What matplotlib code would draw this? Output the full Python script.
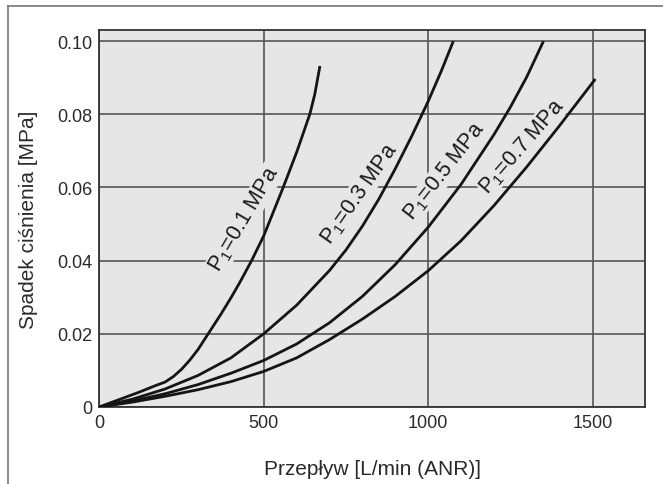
import matplotlib
matplotlib.use("Agg")
import matplotlib.pyplot as plt
from matplotlib.lines import Line2D

plt.rcParams['font.family'] = ['Liberation Sans', 'DejaVu Sans']
plt.rcParams['mathtext.fontset'] = 'custom'
plt.rcParams['mathtext.rm'] = 'Liberation Sans'
plt.rcParams['mathtext.default'] = 'regular'

# Flow [L/min (ANR)] and pressure drop [MPa] for each inlet pressure
flow_01 = [0, 60, 120, 170, 200, 225, 250, 275, 300, 331, 370, 402, 430, 463,
           500, 530, 559, 600, 640, 655, 670]
drop_01 = [0, 0.0020, 0.0040, 0.0058, 0.0068, 0.0083, 0.0103, 0.0128, 0.0157,
           0.0200, 0.0254, 0.0301, 0.0345, 0.0400, 0.0468, 0.0535, 0.0600,
           0.0696, 0.0800, 0.0854, 0.0928]

flow_03 = [0, 100, 200, 300, 400, 500, 600, 700, 750, 800, 850, 900, 950,
           1000, 1040, 1075]
drop_03 = [0, 0.0021, 0.0049, 0.0086, 0.0134, 0.0200, 0.0278, 0.0373, 0.0429,
           0.0494, 0.0568, 0.0651, 0.0740, 0.0835, 0.0918, 0.0996]

flow_05 = [0, 100, 200, 300, 400, 500, 600, 700, 800, 900, 1000, 1100, 1200,
           1250, 1300, 1349]
drop_05 = [0, 0.0016, 0.0036, 0.0061, 0.0092, 0.0127, 0.0172, 0.0230, 0.0302,
           0.0389, 0.0491, 0.0608, 0.0744, 0.0819, 0.0902, 0.0996]

flow_07 = [0, 100, 200, 300, 400, 500, 600, 700, 800, 900, 1000, 1100, 1200,
           1300, 1400, 1506]
drop_07 = [0, 0.0013, 0.0029, 0.0047, 0.0069, 0.0097, 0.0134, 0.0184, 0.0240,
           0.0302, 0.0372, 0.0454, 0.0550, 0.0656, 0.0769, 0.0893]

curve_labels = ['P$_1$=0.1 MPa', 'P$_1$=0.3 MPa', 'P$_1$=0.5 MPa', 'P$_1$=0.7 MPa']
label_pos = [(442, 0.0515), (790, 0.0585), (1050, 0.0645), (1285, 0.0712)]
label_rot = [59.5, 55, 52, 49]

x_ticks = [0, 500, 1000, 1500]
x_ticklabels = ['0', '500', '1000', '1500']
y_ticks = [0, 0.02, 0.04, 0.06, 0.08, 0.10]
y_ticklabels = ['0', '0.02', '0.04', '0.06', '0.08', '0.10']

fig = plt.figure(figsize=(6.63, 4.85), dpi=100)
ax = fig.add_axes([0.150, 0.159, 0.823, 0.777])
bg = '#e6e6e6'
ax.set_facecolor(bg)
ax.set_xlim(0, 1660)
ax.set_ylim(0, 0.103)

ax.set_xticks(x_ticks)
ax.set_xticklabels(x_ticklabels)
ax.set_yticks(y_ticks)
ax.set_yticklabels(y_ticklabels)
ax.tick_params(length=0, labelsize=13, colors='#2a2a2a', pad=5)
ax.grid(True, color='#555555', linewidth=1.2)
ax.set_axisbelow(True)
for s in ax.spines.values():
    s.set_color('#333333')
    s.set_linewidth(1.3)

for fx, dy in [(flow_01, drop_01), (flow_03, drop_03), (flow_05, drop_05), (flow_07, drop_07)]:
    ax.plot(fx, dy, color='#151515', linewidth=2.0, solid_joinstyle='round', zorder=3)

# labels sit under the curves so their backing boxes only break the grid
for txt, (px, py), rot in zip(curve_labels, label_pos, label_rot):
    ax.text(px, py, txt, rotation=rot, rotation_mode='anchor', ha='center', va='center',
            fontsize=15.5, color='#1a1a1a', zorder=2.5,
            bbox=dict(facecolor=bg, edgecolor='none', pad=0.5))

ax.set_xlabel('Przepływ [L/min (ANR)]', fontsize=15, color='#2a2a2a', labelpad=20)
ax.set_ylabel('Spadek ciśnienia [MPa]', fontsize=15, color='#2a2a2a', labelpad=14)

# thin frame along the top and left edges of the figure
fig.add_artist(Line2D([8 / 663, 8 / 663], [0, 1 - 7 / 485], color='#777777', linewidth=1.2))
fig.add_artist(Line2D([8 / 663, 1], [1 - 7 / 485, 1 - 7 / 485], color='#777777', linewidth=1.2))

fig.savefig('out.png', dpi=100)
